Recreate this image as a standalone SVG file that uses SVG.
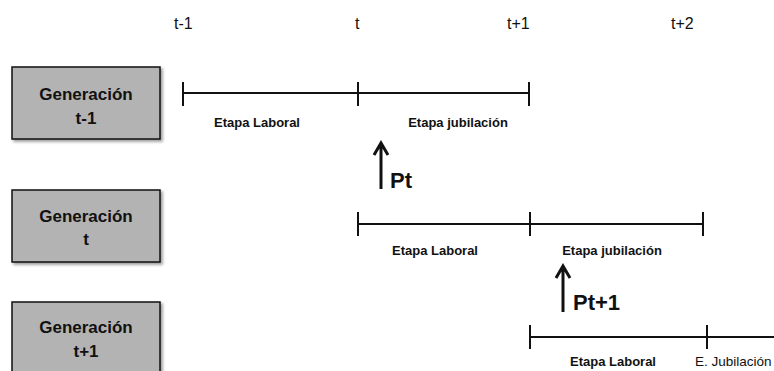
<svg xmlns="http://www.w3.org/2000/svg" width="774" height="371" viewBox="0 0 774 371">
<defs>
<filter id="sh" x="-10%" y="-10%" width="130%" height="130%">
<feGaussianBlur in="SourceAlpha" stdDeviation="1.5"/>
<feOffset dx="2" dy="2" result="b"/>
<feComponentTransfer><feFuncA type="linear" slope="0.4"/></feComponentTransfer>
<feMerge><feMergeNode/><feMergeNode in="SourceGraphic"/></feMerge>
</filter>
</defs>
<style>
.box{fill:#b3b3b3;stroke:#111;stroke-width:1.5;filter:url(#sh)}
.bt{font-family:"Liberation Sans",Arial,sans-serif;font-weight:bold;font-size:17px;fill:#111;text-anchor:middle}
.tl{stroke:#111;stroke-width:2;fill:none}
.lab{font-family:"Liberation Sans",Arial,sans-serif;font-weight:bold;font-size:13px;fill:#111;text-anchor:middle}
.tm{font-family:"Liberation Sans",Arial,sans-serif;font-size:16px;fill:#111}
.p{font-family:"Liberation Sans",Arial,sans-serif;font-weight:bold;font-size:22px;fill:#111}
.ar{stroke:#111;stroke-width:3;fill:none}
</style>
<g id="time-labels">
<text class="tm" x="174" y="29">t-1</text>
<text class="tm" x="355" y="29">t</text>
<text class="tm" x="507" y="29">t+1</text>
<text class="tm" x="671" y="29">t+2</text>
</g>
<g id="gen-t-1">
<rect class="box" x="12" y="67" width="148" height="72"/>
<text class="bt" x="86" y="100">Generación</text>
<text class="bt" x="86" y="124">t-1</text>
</g>
<g id="gen-t">
<rect class="box" x="12" y="190" width="148" height="72"/>
<text class="bt" x="86" y="222">Generación</text>
<text class="bt" x="86" y="245">t</text>
</g>
<g id="gen-t1">
<rect class="box" x="12" y="302" width="148" height="80"/>
<text class="bt" x="86" y="333">Generación</text>
<text class="bt" x="86" y="357">t+1</text>
</g>
<g id="connectors">
<path class="tl" d="M183 93H529M183 82V106M358 82V106M529 82V106"/>
<path class="tl" d="M358 224H703M358 212V236M530 212V236M703 212V236"/>
<path class="tl" d="M530 337H774M530 325V349M707 325V349"/>
<path class="ar" d="M381 189V143M374 155L381 143L388 155"/>
<path class="ar" d="M563 312V266M556 278L563 266L570 278"/>
</g>
<g id="labels">
<text class="lab" x="257" y="127">Etapa Laboral</text>
<text class="lab" x="458" y="127">Etapa jubilación</text>
<text class="lab" x="435" y="255">Etapa Laboral</text>
<text class="lab" x="612" y="255">Etapa jubilación</text>
<text class="lab" x="613" y="366">Etapa Laboral</text>
<text class="tm" style="font-size:13.5px" x="695" y="366">E. Jubilación</text>
<text class="p" x="390" y="188">Pt</text>
<text class="p" x="573" y="310">Pt+1</text>
</g>
</svg>
